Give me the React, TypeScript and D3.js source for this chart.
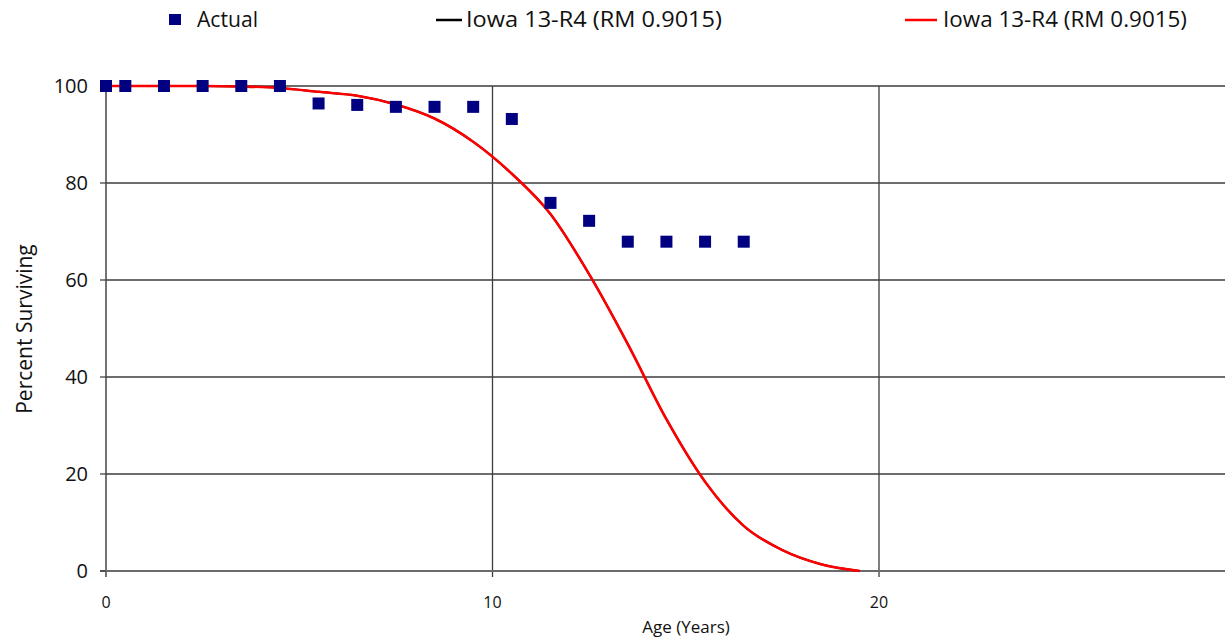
import React from "react";
import * as d3 from "d3";

// Observed survival (percent surviving at each age, years)
const actualAges = [0, 0.5, 1.5, 2.5, 3.5, 4.5, 5.5, 6.5, 7.5, 8.5, 9.5, 10.5, 11.5, 12.5, 13.5, 14.5, 15.5, 16.5];
const actualValues = [100, 100, 100, 100, 100, 100, 96.4, 96.1, 95.7, 95.7, 95.7, 93.2, 75.9, 72.2, 67.9, 67.9, 67.9, 67.9];

// Iowa 13-R4 fitted curve
const iowaAges = [0, 0.5, 1.5, 2.5, 3.5, 4.5, 5.5, 6.5, 7.5, 8.5, 9.5, 10.5, 11.5, 12.5, 13.5, 14.5, 15.5, 16.5, 17.5, 18.5, 19.5];
const iowaValues = [100, 100, 100, 100, 99.9, 99.6, 98.8, 98.0, 96.2, 93.3, 88.5, 81.9, 73.6, 61.2, 46.8, 31.3, 18.4, 9.3, 4.3, 1.4, 0];

const xTicks = [0, 10, 20];
const yTicks = [0, 20, 40, 60, 80, 100];

const legendLabels = ["Actual", "Iowa 13-R4 (RM 0.9015)", "Iowa 13-R4 (RM 0.9015)"];

const W = 1225;
const H = 639;
const FONT = "'Open Sans', 'Noto Sans', sans-serif";

export default function App() {
  const x = d3.scaleLinear().domain([0, 30]).range([106, 106 + 30 * 38.65]);
  const y = d3.scaleLinear().domain([0, 100]).range([571, 86]);

  const iowaData = iowaAges.map((a, i) => [a, iowaValues[i]] as [number, number]);
  const line = d3
    .line<[number, number]>()
    .x((d) => x(d[0]))
    .y((d) => y(d[1]))
    .curve(d3.curveMonotoneX);

  const gridColor = "#3c3c3c";

  return (
    <svg
      width={W}
      height={H}
      style={{ position: "absolute", left: 0, top: 0, background: "#fff" }}
      xmlns="http://www.w3.org/2000/svg"
    >
      <rect x={0} y={0} width={W} height={H} fill="#fff" />

      {/* horizontal gridlines */}
      {yTicks.filter((t) => t !== 0).map((t) => (
        <line key={"gy" + t} x1={x(0)} x2={W} y1={y(t)} y2={y(t)} stroke={gridColor} strokeWidth={1.3} />
      ))}
      {/* vertical gridlines */}
      {xTicks.filter((t) => t !== 0).map((t) => (
        <line key={"gx" + t} x1={x(t)} x2={x(t)} y1={y(100)} y2={y(0) + 6} stroke={gridColor} strokeWidth={1.3} />
      ))}

      {/* axes */}
      <line x1={x(0)} x2={x(0)} y1={y(100)} y2={y(0) + 6} stroke="#444" strokeWidth={1.5} />
      <line x1={x(0) - 6} x2={W} y1={y(0)} y2={y(0)} stroke="#6a6a6a" strokeWidth={2.2} />

      {/* y ticks */}
      {yTicks.map((t) => (
        <g key={"yt" + t}>
          <line x1={x(0) - 6} x2={x(0)} y1={y(t)} y2={y(t)} stroke="#444" strokeWidth={1.3} />
          <text x={88} y={y(t)} dy="0.36em" textAnchor="end" fontFamily={FONT} fontSize={20} fill="#111">
            {t}
          </text>
        </g>
      ))}

      {/* x tick labels */}
      {xTicks.map((t) => (
        <text key={"xt" + t} x={x(t)} y={608} textAnchor="middle" fontFamily={FONT} fontSize={16} fill="#111">
          {t}
        </text>
      ))}

      {/* axis titles */}
      <text x={686} y={633} textAnchor="middle" fontFamily={FONT} fontSize={17} fill="#111">
        Age (Years)
      </text>
      <text
        transform={`translate(32, 329) rotate(-90)`}
        textAnchor="middle"
        fontFamily={FONT}
        fontSize={21}
        fill="#111"
      >
        Percent Surviving
      </text>

      {/* fitted curve (black series hidden beneath the red one) */}
      <path d={line(iowaData) || ""} fill="none" stroke="#000" strokeWidth={2} />
      <path d={line(iowaData) || ""} fill="none" stroke="#ff0000" strokeWidth={2.6} />

      {/* actual points */}
      {actualAges.map((a, i) => (
        <rect
          key={"p" + i}
          x={x(a) - 6}
          y={y(actualValues[i]) - 6}
          width={12}
          height={12}
          fill="#000080"
        />
      ))}

      {/* legend */}
      <rect x={169} y={14} width={12} height={11} fill="#000080" />
      <text x={197} y={27} fontFamily={FONT} fontSize={21} fill="#111" textLength={61} lengthAdjust="spacingAndGlyphs">
        {legendLabels[0]}
      </text>
      <line x1={436} x2={462} y1={20} y2={20} stroke="#000" strokeWidth={2.5} />
      <text x={466} y={27} fontFamily={FONT} fontSize={21} fill="#111" textLength={256} lengthAdjust="spacingAndGlyphs">
        {legendLabels[1]}
      </text>
      <line x1={905} x2={937} y1={20} y2={20} stroke="#ff0000" strokeWidth={2.5} />
      <text x={943} y={27} fontFamily={FONT} fontSize={21} fill="#111" textLength={244} lengthAdjust="spacingAndGlyphs">
        {legendLabels[2]}
      </text>
    </svg>
  );
}
